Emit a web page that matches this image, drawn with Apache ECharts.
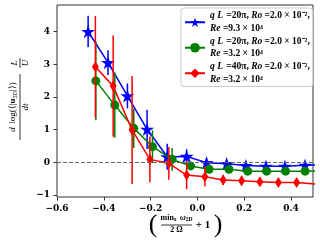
<!DOCTYPE html>
<html><head><meta charset="utf-8">
<script src="https://cdn.jsdelivr.net/npm/echarts@6/dist/echarts.min.js"></script>
<style>html,body{margin:0;padding:0;background:#fff}#c{width:320px;height:240px}</style>
</head><body><div id="c"></div>
<script>
// ---- data ----
const seriesNames = ['blue', 'green', 'red'];
const blueX = [-0.467, -0.382, -0.299, -0.215, -0.129, -0.046, 0.039, 0.125, 0.207, 0.293, 0.374, 0.460, 0.544];
const blueY = [4.00, 3.05, 2.03, 1.01, 0.17, 0.18, -0.01, -0.04, -0.10, -0.12, -0.12, -0.09, -0.07];
const blueErr = [0.48, 0.38, 0.38, 0.60, 0.40, 0.22, 0.08, 0.06, 0.05, 0.05, 0.05, 0.05, 0.05];

const greenX = [-0.434, -0.353, -0.272, -0.192, -0.108, -0.029, 0.050, 0.135, 0.215, 0.296, 0.377, 0.460, 0.540];
const greenY = [2.49, 1.75, 1.04, 0.48, 0.09, -0.11, -0.21, -0.21, -0.27, -0.27, -0.27, -0.27, -0.26];
const greenErr = [1.20, 1.00, 0.60, 0.50, 0.35, 0.12, 0.06, 0.05, 0.04, 0.04, 0.04, 0.04, 0.04];

const redX = [-0.436, -0.360, -0.279, -0.203, -0.122, -0.046, 0.032, 0.110, 0.189, 0.267, 0.346, 0.424, 0.503];
const redY = [2.92, 2.33, 0.99, 0.09, -0.03, -0.39, -0.44, -0.54, -0.56, -0.59, -0.62, -0.62, -0.66];
const redErr = [1.55, 1.55, 1.65, 0.70, 0.50, 0.43, 0.30, 0.15, 0.12, 0.10, 0.10, 0.10, 0.10];

// tick axes: first/last tick value and step
const xTickMin = -0.6, xTickMax = 0.4, xTickStep = 0.2;
const yTickMin = -1, yTickMax = 4, yTickStep = 1;
const legendTexts = {
  blue: '{i|q L} {n|=20π, }{i|Ro}{n| =2.0 × 10⁻²,}\n{i|Re}{n| =9.3 × 10⁴}',
  green: '{i|q L} {n|=20π, }{i|Ro}{n| =2.0 × 10⁻²,}\n{i|Re}{n| =3.2 × 10⁴}',
  red: '{i|q L} {n|=40π, }{i|Ro}{n| =2.0 × 10⁻²,}\n{i|Re}{n| =3.2 × 10⁴}'
};
// ---------------------------------------

const X_MIN = -0.6, X_MAX = 0.494, Y_MIN = -1.06, Y_MAX = 4.81;
const G = { left: 57, right: 7, top: 5, bottom: 43 };
const W = 320, H = 240;
const gw = W - G.left - G.right, gh = H - G.top - G.bottom;
// sub-grids whose axes span exactly the tick range, aligned to the main grid
const xTickRight = G.right + (X_MAX - xTickMax) / (X_MAX - X_MIN) * gw;
const yTickTop = G.top + (Y_MAX - yTickMax) / (Y_MAX - Y_MIN) * gh;
const yTickBottom = G.bottom + (yTickMin - Y_MIN) / (Y_MAX - Y_MIN) * gh;

const STAR = 'path://M100 0 L122.45 69.1 L195.1 69.1 L136.3 111.8 L158.8 180.9 L100 138.2 L41.2 180.9 L63.7 111.8 L4.9 69.1 L77.55 69.1 Z';
const FONT = 'DejaVu Serif';
const LFONT = 'Liberation Serif';

function pts(xs, ys) { return xs.map((x, i) => [x, ys[i]]); }
function errs(xs, ys, es) { return xs.map((x, i) => [x, ys[i] - es[i], ys[i] + es[i]]); }
function errSeries(data, color, z) {
  return {
    type: 'custom', data, z, clip: true, silent: true,
    encode: { x: 0, y: [1, 2] },
    renderItem(params, api) {
      const p1 = api.coord([api.value(0), api.value(1)]);
      const p2 = api.coord([api.value(0), api.value(2)]);
      return { type: 'line', shape: { x1: p1[0], y1: p1[1], x2: p2[0], y2: p2[1] },
        style: { stroke: color, lineWidth: 1.5 } };
    }
  };
}
function lineSeries(name, data, color, symbol, size, z, extra) {
  return Object.assign({
    type: 'line', name, data, z, clip: true, silent: true,
    symbol, symbolSize: size, symbolKeepAspect: true, showAllSymbol: true,
    lineStyle: { color, width: 1.5 }, itemStyle: { color, borderWidth: 0 },
    emphasis: { disabled: true }
  }, extra || {});
}
const hiddenAxis = { type: 'value', show: false, min: 0, max: 1 };
const tickStyle = { show: true, length: 3.5, lineStyle: { color: '#333', width: 1 } };
const labStyle = { margin: 7, fontFamily: FONT, fontWeight: 'bold', fontSize: 9, color: '#000' };

const chart = echarts.init(document.getElementById('c'), null, { renderer: 'canvas' });

chart.setOption({
  animation: false,
  backgroundColor: '#fff',
  grid: [
    Object.assign({ show: true, borderColor: '#333', borderWidth: 1, backgroundColor: 'transparent' }, G),
    { left: G.left, right: G.right, top: yTickTop, bottom: yTickBottom },
    { left: G.left, right: xTickRight, top: G.top, bottom: G.bottom }
  ],
  xAxis: [
    { gridIndex: 0, type: 'value', min: X_MIN, max: X_MAX, show: false },
    Object.assign({ gridIndex: 1 }, hiddenAxis),
    { gridIndex: 2, type: 'value', position: 'bottom', min: xTickMin, max: xTickMax, interval: xTickStep,
      axisLine: { show: false }, splitLine: { show: false }, axisTick: tickStyle,
      axisLabel: Object.assign({ formatter: v => (Math.abs(v) < 1e-9 ? 0 : v).toFixed(1).replace('-', '−') }, labStyle) }
  ],
  yAxis: [
    { gridIndex: 0, type: 'value', min: Y_MIN, max: Y_MAX, show: false },
    { gridIndex: 1, type: 'value', position: 'left', min: yTickMin, max: yTickMax, interval: yTickStep,
      axisLine: { show: false }, splitLine: { show: false }, axisTick: tickStyle,
      axisLabel: Object.assign({ formatter: v => String(v).replace('-', '−') }, labStyle) },
    Object.assign({ gridIndex: 2 }, hiddenAxis)
  ],
  legend: {
    data: seriesNames, left: 181, top: 8, orient: 'vertical', itemGap: 2,
    itemWidth: 20, itemHeight: 12, padding: [2, 3, 2, 3],
    backgroundColor: '#fff', borderColor: '#ccc', borderWidth: 1, borderRadius: 3,
    selectedMode: false,
    formatter: n => legendTexts[n],
    textStyle: {
      rich: {
        n: { fontFamily: LFONT, fontWeight: 'bold', fontSize: 9.5, lineHeight: 12.5, color: '#000' },
        i: { fontFamily: LFONT, fontWeight: 'bold', fontStyle: 'italic', fontSize: 9.5, lineHeight: 12.5, color: '#000' }
      }
    }
  },
  series: [
    errSeries(errs(blueX, blueY, blueErr), '#0000ff', 2),
    lineSeries('blue', pts(blueX, blueY), '#0000ff', STAR, 14, 3, {
      markLine: { silent: true, symbol: ['none', 'none'], label: { show: false },
        lineStyle: { color: '#666', type: [4, 2], width: 1 }, data: [{ yAxis: 0 }], z: 10 }
    }),
    errSeries(errs(greenX, greenY, greenErr), '#008000', 4),
    lineSeries('green', pts(greenX, greenY), '#008000', 'circle', 9, 5),
    errSeries(errs(redX, redY, redErr), '#ff0000', 6),
    lineSeries('red', pts(redX, redY), '#ff0000', 'diamond', [7, 11], 7)
  ],
  graphic: [
    {
      type: 'group', x: 20, y: 140, rotation: Math.PI / 2,
      children: [
        { type: 'line', shape: { x1: 0, y1: 0, x2: 66, y2: 0 }, style: { stroke: '#000', lineWidth: 0.8 } },
        { type: 'text', x: 33, y: -1, style: {
          text: '{i|d} {n|log(⟨|}{b|u}{s|3D}{n||⟩)}', align: 'center', verticalAlign: 'bottom',
          rich: {
            n: { fontFamily: LFONT, fontSize: 9, fill: '#000' },
            i: { fontFamily: LFONT, fontStyle: 'italic', fontSize: 9, fill: '#000' },
            b: { fontFamily: LFONT, fontWeight: 'bold', fontSize: 9, fill: '#000' },
            s: { fontFamily: LFONT, fontSize: 6, fill: '#000', padding: [4, 0, 0, 0] }
          } } },
        { type: 'text', x: 33, y: 1, style: { text: 'dt', align: 'center', verticalAlign: 'top',
          fontFamily: LFONT, fontStyle: 'italic', fontSize: 9, fill: '#000' } },
        { type: 'line', shape: { x1: 72, y1: 0, x2: 82, y2: 0 }, style: { stroke: '#000', lineWidth: 0.8 } },
        { type: 'text', x: 77, y: -1, style: { text: 'L', align: 'center', verticalAlign: 'bottom',
          fontFamily: LFONT, fontStyle: 'italic', fontSize: 9, fill: '#000' } },
        { type: 'text', x: 77, y: 1, style: { text: 'U', align: 'center', verticalAlign: 'top',
          fontFamily: LFONT, fontStyle: 'italic', fontSize: 9, fill: '#000' } }
      ]
    },
    {
      type: 'group', x: 185, y: 225,
      children: [
        { type: 'text', x: -32, y: 0, style: { text: '(', align: 'center', verticalAlign: 'middle',
          fontFamily: LFONT, fontSize: 26, fill: '#000' } },
        { type: 'line', shape: { x1: -24, y1: 0, x2: 7, y2: 0 }, style: { stroke: '#000', lineWidth: 0.8 } },
        { type: 'text', x: -8.5, y: -1, style: {
          text: '{n|min}{s|x} {i|ω}{s|2D}', align: 'center', verticalAlign: 'bottom',
          rich: {
            n: { fontFamily: LFONT, fontWeight: 'bold', fontSize: 8, fill: '#000' },
            i: { fontFamily: LFONT, fontStyle: 'italic', fontWeight: 'bold', fontSize: 8, fill: '#000' },
            s: { fontFamily: LFONT, fontWeight: 'bold', fontSize: 5.5, fill: '#000', padding: [3, 0, 0, 0] }
          } } },
        { type: 'text', x: -8.5, y: 1, style: { text: '2 Ω', align: 'center', verticalAlign: 'top',
          fontFamily: LFONT, fontWeight: 'bold', fontSize: 8, fill: '#000' } },
        { type: 'text', x: 18, y: 0, style: { text: '+ 1', align: 'center', verticalAlign: 'middle',
          fontFamily: LFONT, fontWeight: 'bold', fontSize: 11, fill: '#000' } },
        { type: 'text', x: 33, y: 0, style: { text: ')', align: 'center', verticalAlign: 'middle',
          fontFamily: LFONT, fontSize: 26, fill: '#000' } }
      ]
    }
  ]
});
</script>
</body></html>
